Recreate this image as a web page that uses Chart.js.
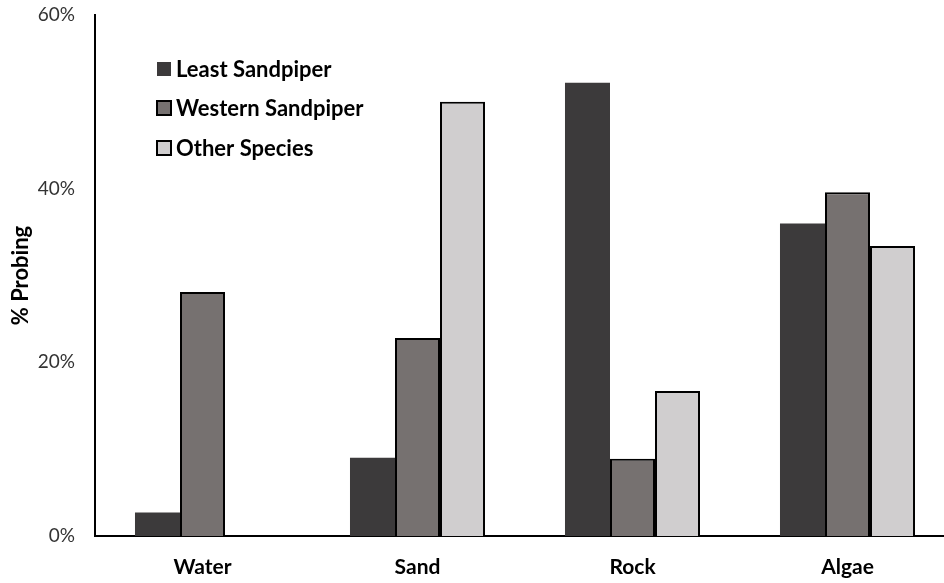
<!DOCTYPE html>
<html>
<head>
<meta charset="utf-8">
<script src="https://cdn.jsdelivr.net/npm/chart.js@4.4.1/dist/chart.umd.min.js"></script>
<style>
  html, body { margin: 0; padding: 0; background: #fff; overflow: hidden; }
  #wrap { position: relative; width: 955px; height: 583px; }
</style>
</head>
<body>
<div id="wrap"><canvas id="probingChart"></canvas></div>
<script>
// substrate categories and % probing per group
const categories = ["Water", "Sand", "Rock", "Algae"];
const leastSandpiper = [2.7, 9.0, 52.2, 36.0];
const westernSandpiper = [28.1, 22.8, 8.9, 39.6];
const otherSpecies = [0, 50.0, 16.7, 33.4];
const yTicks = [0, 20, 40, 60];

const FONT = "Lato, 'Open Sans', sans-serif";

// legend drawn inside the plot, top left
const insideLegend = {
  id: "insideLegend",
  afterDraw(chart) {
    const ctx = chart.ctx;
    const x0 = 157, rows = [69, 108, 148];
    ctx.save();
    ctx.font = "bold 22px " + FONT;
    ctx.textBaseline = "middle";
    ctx.textAlign = "left";
    chart.data.datasets.forEach((ds, i) => {
      const y = rows[i];
      ctx.fillStyle = ds.backgroundColor;
      ctx.fillRect(x0, y - 7, 14, 14);
      if (ds.borderWidth > 0) {
        ctx.lineWidth = 2;
        ctx.strokeStyle = "#000";
        ctx.strokeRect(x0, y - 7, 14, 14);
      }
      ctx.fillStyle = "#000";
      ctx.fillText(ds.label, x0 + 19, y + 1);
    });
    ctx.restore();
  }
};

new Chart(document.getElementById("probingChart"), {
  type: "bar",
  data: {
    labels: categories,
    datasets: [
      { label: "Least Sandpiper", data: leastSandpiper, backgroundColor: "#3c3a3b", borderWidth: 0 },
      { label: "Western Sandpiper", data: westernSandpiper, backgroundColor: "#767170", borderColor: "#000", borderWidth: 2 },
      { label: "Other Species", data: otherSpecies, backgroundColor: "#d0cecf", borderColor: "#000", borderWidth: 2 }
    ]
  },
  options: {
    responsive: true,
    maintainAspectRatio: false,
    animation: false,
    layout: { padding: { top: 15, left: 0, right: 0, bottom: 0 } },
    datasets: { bar: { barPercentage: 1, categoryPercentage: 0.628, borderSkipped: "start" } },
    plugins: { legend: { display: false }, tooltip: { enabled: false } },
    scales: {
      x: {
        grid: { display: false, drawTicks: false },
        border: { display: true, color: "#000", width: 2 },
        ticks: { color: "#000", font: { family: FONT, size: 21, weight: "bold" }, padding: 19 },
        afterFit(scale) { scale.height = 47; }
      },
      y: {
        min: 0,
        max: 60,
        grid: { display: false, drawTicks: false },
        border: { display: true, color: "#000", width: 2 },
        afterBuildTicks(scale) { scale.ticks = yTicks.map(v => ({ value: v })); },
        ticks: {
          color: "#333",
          font: { family: FONT, size: 19 },
          padding: 20,
          callback: v => v + "%"
        },
        title: {
          display: true,
          text: "% Probing",
          color: "#000",
          font: { family: FONT, size: 22, weight: "bold" },
          padding: { top: 8, bottom: 0 }
        },
        afterFit(scale) {
          scale.width = 95;
          scale.paddingTop = 0;
          scale.paddingBottom = 0;
        }
      }
    }
  },
  plugins: [insideLegend]
});
</script>
</body>
</html>
